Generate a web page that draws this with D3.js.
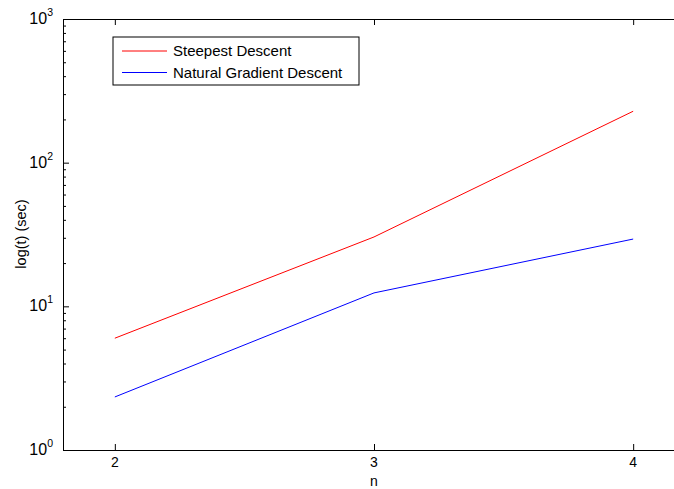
<!DOCTYPE html>
<html>
<head>
<meta charset="utf-8">
<script src="https://cdn.jsdelivr.net/npm/d3@7"></script>
<style>
  body { margin: 0; background: #fff; }
  svg { display: block; font-family: "Liberation Sans", Arial, sans-serif; }
</style>
</head>
<body>
<div id="viz"></div>
<script>
// data
const nValues = [2, 3, 4];
const steepest = [6.0, 30.4, 228];
const natural = [2.34, 12.4, 29.4];
const seriesNames = ["Steepest Descent", "Natural Gradient Descent"];
const seriesColors = ["#ff0000", "#0000ff"];
const yMajor = [1, 10, 100, 1000];
const xTicks = [2, 3, 4];

const width = 674, height = 489;
const margin = {left: 63, top: 19, right: 685, bottom: 450}; // plot box edges (right is off-screen)

const svg = d3.select("#viz").append("svg")
  .attr("width", width)
  .attr("height", height);

const xScale = d3.scaleLinear().domain([1.8, 4.2]).range([margin.left, margin.right]);
const yScale = d3.scaleLog().domain([1, 1000]).range([margin.bottom, margin.top]);

// minor log ticks (2..9 in each decade)
let yMinor = [];
yMajor.slice(0, -1).forEach(d => {
  for (let k = 2; k <= 9; k++) yMinor.push(d * k);
});

// left axis: major ticks + minor ticks, inward
svg.append("g")
  .attr("transform", "translate(" + margin.left + ",0)")
  .call(d3.axisLeft(yScale).tickValues(yMajor).tickFormat("").tickSizeInner(-6).tickSizeOuter(0));
const leftMinor = svg.append("g")
  .attr("transform", "translate(" + margin.left + ",0)")
  .call(d3.axisLeft(yScale).tickValues(yMinor).tickFormat("").tickSizeInner(-3).tickSizeOuter(0));
leftMinor.select(".domain").remove();

// bottom and top axes with inward ticks
svg.append("g")
  .attr("transform", "translate(0," + margin.bottom + ")")
  .call(d3.axisBottom(xScale).tickValues(xTicks).tickFormat("").tickSizeInner(-6).tickSizeOuter(0));
svg.append("g")
  .attr("transform", "translate(0," + margin.top + ")")
  .call(d3.axisTop(xScale).tickValues(xTicks).tickFormat("").tickSizeInner(-6).tickSizeOuter(0));

svg.selectAll(".domain").attr("stroke", "#000").attr("stroke-width", 1);
svg.selectAll(".tick line").attr("stroke", "#000").attr("stroke-width", 1);

// x tick labels
svg.selectAll(".xlabel")
  .data(xTicks)
  .enter().append("text")
    .attr("class", "xlabel")
    .attr("x", d => xScale(d))
    .attr("y", margin.bottom + 17)
    .attr("text-anchor", "middle")
    .attr("font-size", 14)
    .text(d => d);

// y tick labels as 10^k
const yLab = svg.selectAll(".ylabel")
  .data(yMajor)
  .enter().append("text")
    .attr("class", "ylabel")
    .attr("x", 53)
    .attr("y", d => yScale(d) + 5)
    .attr("text-anchor", "end")
    .attr("font-size", 16);
yLab.append("tspan").text("10");
yLab.append("tspan")
  .attr("font-size", 10.5)
  .attr("dy", -8)
  .text(d => Math.round(Math.log10(d)));

// axis titles
svg.append("text")
  .attr("x", xScale(3))
  .attr("y", 486)
  .attr("text-anchor", "middle")
  .attr("font-size", 14)
  .text("n");
svg.append("text")
  .attr("transform", "translate(26," + 234 + ") rotate(-90)")
  .attr("text-anchor", "middle")
  .attr("font-size", 14.5)
  .text("log(t) (sec)");

// lines
const line = d3.line()
  .x((d, i) => xScale(nValues[i]))
  .y(d => yScale(d));
[steepest, natural].forEach((s, i) => {
  svg.append("path")
    .datum(s)
    .attr("fill", "none")
    .attr("stroke", seriesColors[i])
    .attr("stroke-width", 1)
    .attr("d", line);
});

// legend
const legend = svg.append("g").attr("transform", "translate(113,37)");
legend.append("rect")
  .attr("x", 0).attr("y", 0)
  .attr("width", 246).attr("height", 48)
  .attr("fill", "#fff")
  .attr("stroke", "#000")
  .attr("stroke-width", 1);
seriesNames.forEach((name, i) => {
  const y = 14 + i * 21.5;
  legend.append("line")
    .attr("x1", 9).attr("x2", 54)
    .attr("y1", y).attr("y2", y)
    .attr("stroke", seriesColors[i])
    .attr("stroke-width", 1);
  legend.append("text")
    .attr("x", 60)
    .attr("y", y + 5)
    .attr("font-size", 15)
    .text(name);
});
</script>
</body>
</html>
